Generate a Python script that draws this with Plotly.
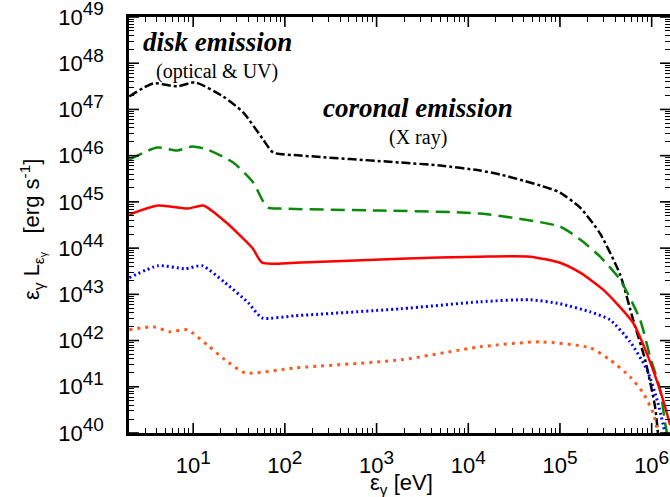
import math
import plotly.graph_objects as go

# ---- data ----
black_x = [2.01, 3.66, 6.70, 10.5, 21.2, 35.1, 57.9, 74.5, 147, 1810, 4940, 1.35e4, 2.23e4, 3.97e4,
           6.08e4, 1.00e5, 1.66e5, 2.74e5, 4.53e5, 6.28e5, 8.49e5, 1.09e6, 1.17e6]
black_y = [1.91e47, 3.66e47, 3.16e47, 3.85e47, 1.91e47, 8.61e46, 2.24e46, 1.17e46, 1.01e46, 7.11e45,
           6.12e45, 4.76e45, 3.91e45, 2.90e45, 2.26e45, 1.59e45, 7.52e44, 2.06e44, 2.66e43, 2.81e42,
           3.82e41, 3.66e40, 1.0e40]

green_x = [2.01, 4.05, 6.70, 9.75, 14.2, 27.3, 45.1, 57.9, 65.8, 88.9, 1100, 1.35e4, 1.00e5,
           1.66e5, 2.74e5, 4.53e5, 7.48e5, 9.62e5, 1.24e6, 1.40e6, 1.47e6]
green_y = [8.26e45, 1.50e46, 1.29e46, 1.58e46, 1.36e46, 7.11e45, 2.62e45, 1.03e45, 7.52e44, 7.16e44,
           6.49e44, 5.58e44, 2.92e44, 1.53e44, 6.52e43, 2.07e43, 2.81e42, 4.44e41, 8.55e40, 1.65e40, 1.0e40]

red_x = [2.01, 4.15, 8.81, 12.9, 22.3, 44.0, 56.5, 129, 1810, 1.35e4, 4.73e4, 1.00e5, 1.66e5,
         2.96e5, 6.28e5, 9.16e5, 1.30e6, 1.59e6]
red_y = [5.31e44, 8.32e44, 7.16e44, 8.32e44, 3.75e44, 1.02e44, 4.83e43, 4.83e43, 5.90e43, 6.52e43,
         6.52e43, 4.83e43, 2.94e43, 1.26e43, 2.42e42, 4.44e41, 6.03e40, 1.49e40]

blue_x = [2.01, 4.15, 8.18, 12.5, 22.3, 39.8, 56.5, 129, 1810, 1.35e4, 4.73e4, 1.00e5, 2.13e5,
          3.52e5, 5.82e5, 8.91e5, 1.17e6, 1.40e6]
blue_y = [2.29e43, 4.16e43, 3.58e43, 4.16e43, 1.78e43, 6.58e42, 3.10e42, 3.44e42, 4.86e42, 6.90e42,
          7.64e42, 6.25e42, 4.19e42, 2.81e42, 9.38e41, 2.32e41, 4.47e40, 1.0e40]

orange_x = [2.01, 3.66, 5.61, 8.61, 14.2, 22.3, 36.9, 129, 1810, 1.35e4, 6.08e4, 2.13e5, 3.52e5,
            5.82e5, 8.07e5, 1.04e6, 1.17e6]
orange_y = [1.71e42, 1.98e42, 1.55e42, 1.71e42, 8.07e41, 3.82e41, 2.00e41, 2.56e41, 3.82e41, 7.31e41,
            9.38e41, 6.95e41, 3.82e41, 1.64e41, 7.36e40, 2.71e40, 1.0e40]

x_tick_exp = [1, 2, 3, 4, 5, 6]
y_tick_exp = [40, 41, 42, 43, 44, 45, 46, 47, 48, 49]

# ---- figure ----
fig = go.Figure()
series = [
    (black_x, black_y, "black", "dashdot", 2.5),
    (green_x, green_y, "#0a8a0a", "14px,7px", 2.5),
    (red_x, red_y, "#ff0000", "solid", 2.5),
    (blue_x, blue_y, "#0000ff", "2px,3px", 3),
    (orange_x, orange_y, "#ff5a1e", "3px,5px", 3),
]
for xs, ys, col, dash, w in series:
    fig.add_trace(go.Scatter(x=xs, y=ys, mode="lines",
                             line=dict(color=col, dash=dash, width=w, shape="spline", smoothing=0.6),
                             showlegend=False, hoverinfo="skip"))

sans = "Liberation Sans, Arial, sans-serif"
tickfont = dict(family=sans, size=22, color="black")


def sup_label(e):
    return "10<sup><span style='font-size:19px'>%d</span></sup>" % e


XR = [0.30, 6.20]
YR = [39.9999, 49.0001]

# tick positions: labelled decades plus unlabelled 2..9 minor positions
x_vals, x_text = [], []
for e in range(0, 7):
    for m in range(1, 10):
        v = m * 10.0 ** e
        if XR[0] < math.log10(v) < XR[1]:
            x_vals.append(v)
            x_text.append(sup_label(e) if m == 1 else "")
y_vals, y_text = [], []
for e in range(40, 50):
    for m in range(1, 10):
        v = m * 10.0 ** e
        if YR[0] < math.log10(v) < YR[1]:
            y_vals.append(v)
            y_text.append(sup_label(e) if m == 1 else "")

fig.update_layout(
    xaxis=dict(
        type="log", range=XR, automargin=False,
        tickmode="array", tickvals=x_vals, ticktext=x_text,
        ticks="inside", ticklen=5, tickwidth=1.3, tickcolor="black",
        showline=True, linecolor="black", linewidth=2.5, mirror="ticks",
        showgrid=False, zeroline=False, tickfont=tickfont, ticklabelstandoff=11,
        ticklabeloverflow="allow",
    ),
    yaxis=dict(
        type="log", range=YR, automargin=False,
        tickmode="array", tickvals=y_vals, ticktext=y_text,
        ticks="inside", ticklen=5, tickwidth=1.3, tickcolor="black",
        showline=True, linecolor="black", linewidth=2.5, mirror="ticks",
        showgrid=False, zeroline=False, tickfont=tickfont, ticklabelstandoff=18,
        ticklabeloverflow="allow",
    ),
)

# longer major ticks (axis decoration) in paper coordinates, inside on all four sides
major_line = dict(color="black", width=1.6)
for e in x_tick_exp:
    f = (e - XR[0]) / (XR[1] - XR[0])
    fig.add_shape(type="line", xref="paper", yref="paper", x0=f, x1=f,
                  ysizemode="pixel", yanchor=0, y0=0, y1=10, line=major_line)
    fig.add_shape(type="line", xref="paper", yref="paper", x0=f, x1=f,
                  ysizemode="pixel", yanchor=1, y0=0, y1=-10, line=major_line)
for e in y_tick_exp:
    f = (e - YR[0]) / (YR[1] - YR[0])
    fig.add_shape(type="line", xref="paper", yref="paper", y0=f, y1=f,
                  xsizemode="pixel", xanchor=0, x0=0, x1=10, line=major_line)
    fig.add_shape(type="line", xref="paper", yref="paper", y0=f, y1=f,
                  xsizemode="pixel", xanchor=1, x0=0, x1=-10, line=major_line)

serif = "Liberation Serif, Times New Roman, serif"
ann = [
    ("<b><i>disk emission</i></b>", 217, 42, 27),
    ("(optical & UV)", 217, 72, 20),
    ("<b><i>coronal emission</i></b>", 418, 108, 27),
    ("(X ray)", 418, 137, 20),
]
for txt, px, py, sz in ann:
    fig.add_annotation(text=txt, xref="paper", yref="paper",
                       x=(px - 129) / 541, y=(433 - py) / 416,
                       xanchor="center", yanchor="middle", showarrow=False,
                       font=dict(family=serif, size=sz, color="black"))

# axis titles
fig.add_annotation(text="ε<sub>γ</sub> [eV]", xref="paper", yref="paper",
                   x=(368 - 129) / 541, y=(433 - 484) / 416,
                   xanchor="left", yanchor="middle", showarrow=False,
                   font=dict(family=sans, size=22, color="black"))
fig.add_annotation(text="ε<sub>γ</sub> L<sub>ε<sub>γ</sub></sub>\u00a0\u00a0\u00a0[erg s<sup>-1</sup>]",
                   xref="paper", yref="paper", textangle=-90,
                   x=(32 - 129) / 541, y=(433 - 230) / 416,
                   xanchor="center", yanchor="middle", showarrow=False,
                   font=dict(family=sans, size=22, color="black"))

fig.update_layout(
    width=670, height=497,
    margin=dict(l=129, r=0, t=17, b=64),
    paper_bgcolor="white", plot_bgcolor="white",
)
fig.write_html("out.html", config={"displayModeBar": False},
               post_script="document.body.style.margin='0px';")
